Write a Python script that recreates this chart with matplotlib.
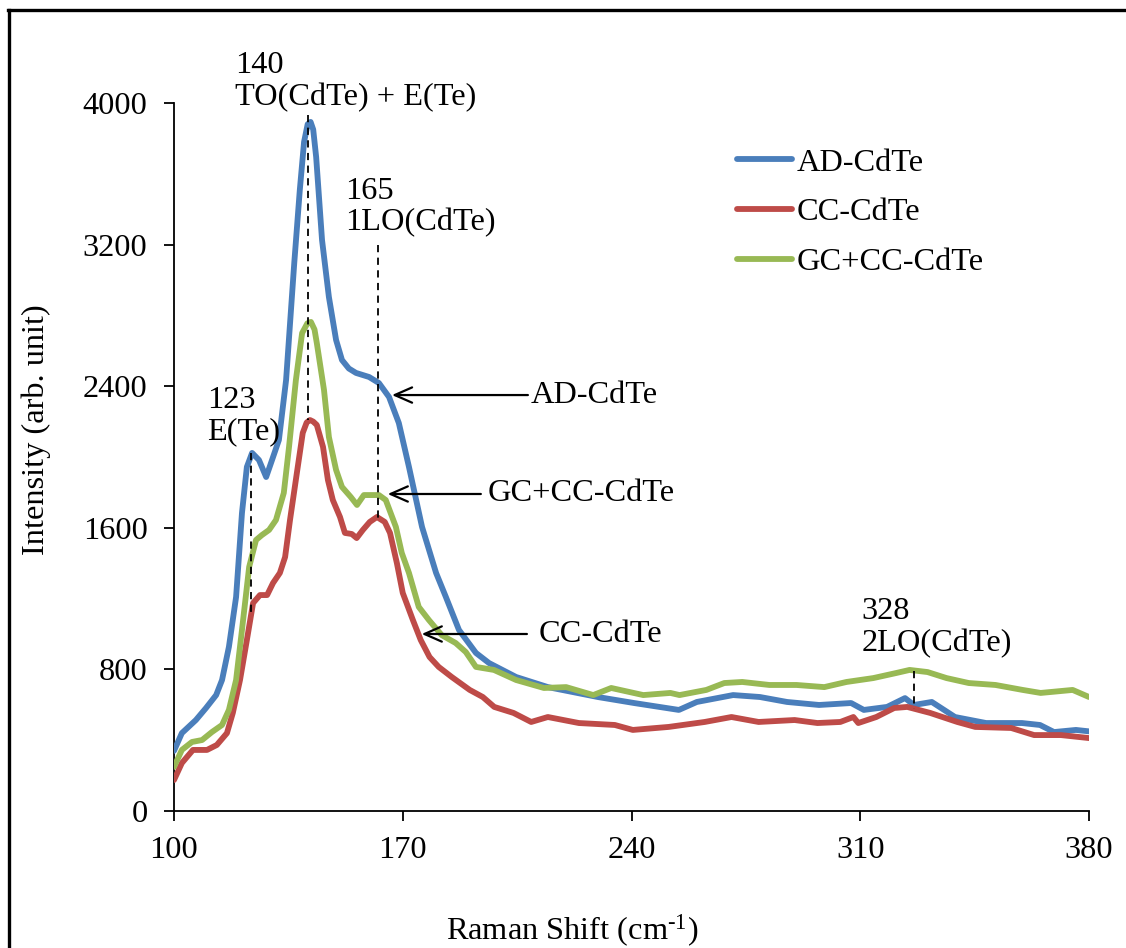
import matplotlib
matplotlib.use("Agg")
import matplotlib.pyplot as plt
from matplotlib.lines import Line2D

plt.rcParams['font.family'] = ['Liberation Serif', 'DejaVu Serif']
plt.rcParams['mathtext.fontset'] = 'custom'
plt.rcParams['mathtext.rm'] = 'Liberation Serif'
plt.rcParams['mathtext.it'] = 'Liberation Serif:italic'
FS = 23.3

# ---------------- data ----------------
ad_x = [100.0, 102.4, 106.7, 109.8, 112.9, 114.7, 116.8, 119.0, 120.8, 122.3,
        123.9, 126.0, 128.2, 130.0, 132.1, 134.3, 136.8, 138.5, 139.8, 140.9,
        141.8, 142.6, 143.5, 145.3, 147.4, 149.6, 151.4, 153.5, 155.7, 159.7,
        162.7, 165.8, 168.8, 171.9, 175.9, 180.2, 183.2, 187.2, 192.4, 196.4,
        204.7, 214.4, 229.7, 240.8, 254.5, 260.0, 271.1, 279.3, 287.6, 297.4,
        307.2, 311.1, 318.2, 323.7, 326.4, 331.9, 339.0, 348.5, 359.5, 365.0,
        369.3, 376.0, 380.0]
ad_y = [340, 440, 514, 582, 655, 740, 927, 1209, 1684, 1944,
        2023, 1983, 1887, 1983, 2096, 2435, 3096, 3509, 3780, 3880,
        3893, 3850, 3695, 3226, 2904, 2661, 2548, 2500, 2475, 2452,
        2418, 2339, 2192, 1944, 1605, 1345, 1209, 1023, 893, 836,
        757, 700, 644, 610, 571, 616, 655, 644, 616, 599,
        610, 571, 588, 638, 599, 616, 531, 497, 497, 486,
        446, 458, 450]

cc_x = [100.0, 102.4, 105.8, 110.1, 113.1, 116.2, 118.0, 120.2, 122.3, 124.2,
        126.3, 128.5, 130.3, 132.4, 134.0, 135.5, 137.6, 139.4, 140.6, 141.6,
        142.6, 143.7, 145.6, 147.1, 148.6, 150.8, 152.3, 154.4, 155.9, 157.8,
        159.9, 162.1, 164.5, 166.1, 168.2, 170.0, 173.1, 175.5, 178.2, 181.0,
        185.0, 190.5, 194.5, 198.0, 203.9, 209.3, 214.4, 223.9, 234.9, 240.4,
        251.4, 262.4, 270.6, 278.9, 289.9, 296.9, 303.9, 307.9, 309.4, 314.9,
        320.4, 324.4, 331.4, 339.7, 345.2, 356.2, 363.2, 371.4, 380.0]
cc_y = [175, 271, 345, 345, 373, 440, 554, 740, 966, 1175,
        1220, 1220, 1288, 1345, 1435, 1644, 1910, 2136, 2195, 2209,
        2200, 2181, 2057, 1870, 1757, 1661, 1571, 1565, 1542, 1588,
        1633, 1661, 1633, 1571, 1401, 1232, 1079, 966, 870, 814,
        757, 684, 644, 588, 554, 503, 531, 497, 486, 458,
        475, 503, 531, 503, 514, 497, 503, 531, 497, 531,
        582, 588, 554, 503, 475, 469, 429, 429, 412]

gc_x = [100.0, 102.4, 105.5, 108.6, 111.6, 114.7, 116.8, 119.0, 120.8, 123.0,
        125.1, 126.9, 129.1, 131.2, 133.6, 135.2, 137.3, 139.2, 140.8, 141.9,
        143.0, 143.7, 145.9, 147.4, 149.6, 151.4, 154.1, 156.0, 158.1, 159.6,
        162.7, 164.8, 167.9, 169.7, 171.9, 174.9, 178.0, 181.9, 186.2, 189.3,
        192.4, 197.9, 204.7, 213.2, 220.0, 228.3, 233.8, 243.6, 251.9, 254.7,
        262.9, 268.4, 273.9, 282.2, 290.5, 299.0, 305.8, 314.0, 321.1, 325.1,
        330.6, 336.4, 343.2, 351.4, 359.7, 365.2, 375.0, 380.0]
gc_y = [249, 345, 390, 401, 446, 486, 571, 740, 1023, 1379,
        1531, 1559, 1588, 1644, 1797, 2057, 2435, 2700, 2755, 2763,
        2720, 2644, 2379, 2113, 1927, 1831, 1774, 1729, 1785, 1785,
        1785, 1757, 1605, 1458, 1345, 1153, 1079, 994, 949, 898,
        814, 797, 740, 695, 700, 655, 695, 655, 667, 655,
        684, 723, 729, 712, 712, 700, 729, 751, 780, 797,
        785, 751, 723, 712, 684, 667, 684, 644]

series_names = ['AD-CdTe', 'CC-CdTe', 'GC+CC-CdTe']
series_colors = ['#4A7EBB', '#BE4B48', '#98B954']

x_ticks = [100, 170, 240, 310, 380]
y_ticks = [0, 800, 1600, 2400, 3200, 4000]

# peak markers: (x, y_top, y_bottom)
peak_lines = [(123.5, 2023, 1119), (141.0, 3930, 2209), (162.4, 3198, 1655), (326.6, 790, 575)]
# peak labels: (x_left, y_bottom, text)
peak_labels = [(118.7, 3950, '140\nTO(CdTe) + E(Te)'),
               (152.3, 3240, '165\n1LO(CdTe)'),
               (110.1, 2060, '123\nE(Te)'),
               (310.4, 865, '328\n2LO(CdTe)')]
# arrows: (label, head_x, head_y, tail_x, text_x)
arrows = [('AD-CdTe', 166.7, 2350, 208.3, 209.2),
          ('GC+CC-CdTe', 165.4, 1791, 193.9, 196.0),
          ('CC-CdTe', 175.8, 1000, 208.0, 211.6)]

# ---------------- figure ----------------
W, H = 1126, 948
fig = plt.figure(figsize=(W / 100, H / 100), dpi=100)
ax = fig.add_axes([174 / W, 1 - 811 / H, (1089 - 174) / W, (811 - 103) / H])

for xs, ys, name, col in zip([ad_x, cc_x, gc_x], [ad_y, cc_y, gc_y], series_names, series_colors):
    ax.plot(xs, ys, color=col, lw=4.2, label=name, solid_joinstyle='round', solid_capstyle='round', zorder=3)

for x, y0, y1 in peak_lines:
    ax.plot([x, x], [y0, y1], color='black', lw=1.3, ls=(0, (4, 3)), zorder=4)

for x, y, t in peak_labels:
    ax.text(x, y, t, fontsize=FS, ha='left', va='bottom', linespacing=1.12, clip_on=False)

for lab, hx, hy, tx, txt_x in arrows:
    ax.annotate('', xy=(hx, hy), xytext=(tx, hy),
                arrowprops=dict(arrowstyle='->,head_length=1.25,head_width=0.55', color='black', lw=1.6,
                                shrinkA=0, shrinkB=0), zorder=5)
    ax.text(txt_x, hy, lab, fontsize=FS, ha='left', va='center')

ax.set_xlim(100, 380)
ax.set_ylim(0, 4000)
ax.set_xticks(x_ticks)
ax.set_yticks(y_ticks)
ax.set_xticklabels([str(v) for v in x_ticks])
ax.set_yticklabels([str(v) for v in y_ticks])
ax.tick_params(axis='both', direction='out', length=7, width=1.3, labelsize=FS, colors='black')
ax.tick_params(axis='y', pad=12)
ax.tick_params(axis='x', pad=11)
for s in ['top', 'right']:
    ax.spines[s].set_visible(False)
for s in ['left', 'bottom']:
    ax.spines[s].set_linewidth(1.3)
    ax.spines[s].set_color('black')

fig.text(572 / W, 1 - 931 / H, 'Raman Shift (cm$^{\\text{-1}}$)', fontsize=FS, ha='center', va='center')
fig.text(36 / W, 1 - 430 / H, 'Intensity (arb. unit)', fontsize=FS, ha='center', va='center', rotation=90)

leg = ax.legend(loc='upper left', bbox_to_anchor=(737 / W, 1 - 148 / H), bbox_transform=fig.transFigure,
                frameon=False, fontsize=FS, handlelength=1.7, handletextpad=0.15, labelspacing=0.62,
                borderpad=0, borderaxespad=0)

# outer frame of the figure (runs off the right and bottom edges)
fig.add_artist(Line2D([9 / W, 9 / W], [1 - 10 / H, -0.01], transform=fig.transFigure, color='black', lw=2.4))
fig.add_artist(Line2D([8 / W, 1.01], [1 - 10 / H, 1 - 10 / H], transform=fig.transFigure, color='black', lw=2.4))

fig.savefig('out.png', dpi=100)
